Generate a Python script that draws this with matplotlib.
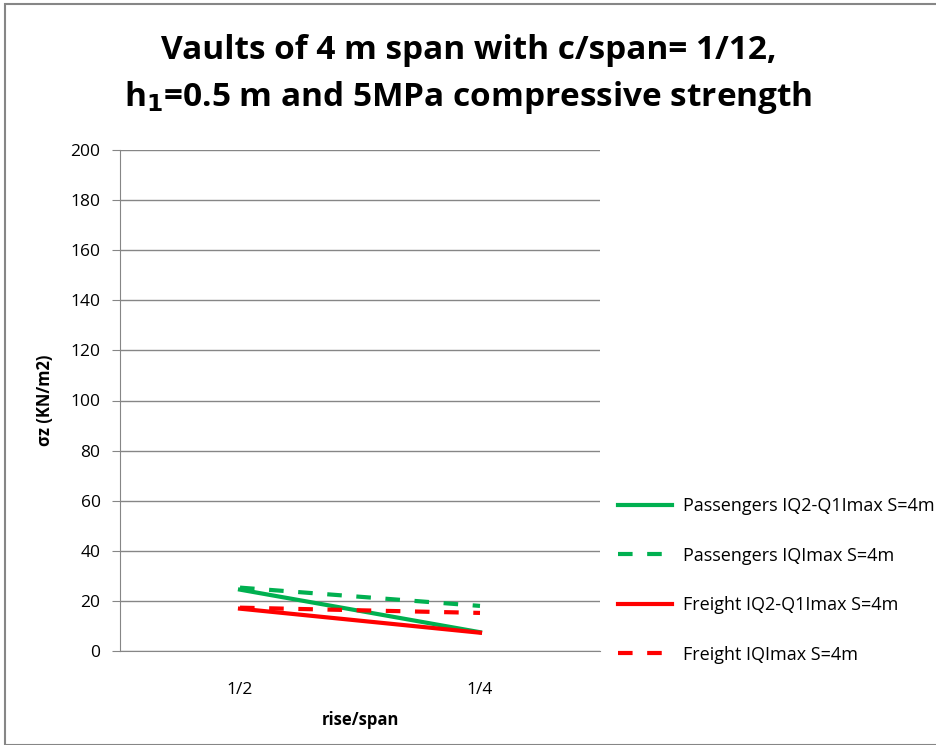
import matplotlib.pyplot as plt
from matplotlib.patches import Rectangle

plt.rcParams['font.family'] = ['Open Sans', 'DejaVu Sans']

categories = ['1/2', '1/4']
pass_iq2 = [24.5, 7.5]
pass_iqmax = [25.3, 18.0]
freight_iq2 = [16.9, 7.3]
freight_iqmax = [17.3, 15.2]

green = '#00b050'
red = '#ff0000'

fig = plt.figure(figsize=(9.37, 7.45), dpi=100)
ax = fig.add_axes([120 / 937, 1 - 651 / 745, 480 / 937, 501 / 745])

x = range(len(categories))
dash = (0, (3.5, 3.5))
ax.plot(x, pass_iq2, color=green, lw=3, label='Passengers IQ2-Q1Imax S=4m')
ax.plot(x, pass_iqmax, color=green, lw=3, ls=dash, label='Passengers IQImax S=4m')
ax.plot(x, freight_iq2, color=red, lw=3, label='Freight IQ2-Q1Imax S=4m')
ax.plot(x, freight_iqmax, color=red, lw=3, ls=dash, label='Freight IQImax S=4m')

ax.set_xlim(-0.5, 1.5)
ax.set_ylim(0, 200)
ax.set_yticks(range(0, 201, 20))
ax.set_xticks(list(x))
ax.set_xticklabels(categories)
ax.tick_params(axis='x', length=0, pad=22, labelsize=12.5)
ax.tick_params(axis='y', length=6, color='#868686', pad=8, labelsize=12.5)
ax.grid(axis='y', color='#868686', lw=1)
ax.set_axisbelow(True)
for s in ['top', 'right']:
    ax.spines[s].set_visible(False)
ax.spines['left'].set_color('#868686')
ax.spines['bottom'].set_color('#868686')

ax.set_ylabel('σz (KN/m2)', fontsize=12, fontweight='bold', labelpad=12)
ax.set_xlabel('rise/span', fontsize=12, fontweight='bold', labelpad=10)

fig.text(0.5, 0.899, 'Vaults of 4 m span with c/span= 1/12,\n'
         r'h$_\mathbf{1}$=0.5 m and 5MPa compressive strength',
         ha='center', va='center', fontsize=24, fontweight='bold', linespacing=1.45)

leg = ax.legend(loc='center left', bbox_to_anchor=(1.0, 0.141), frameon=False,
                fontsize=13, handlelength=3.0, labelspacing=1.75, handletextpad=0.6,
                borderaxespad=0.6)

fig.patches.append(Rectangle((5 / 937, 0), 1.2, 1 - 4 / 745, transform=fig.transFigure,
                             fill=False, edgecolor='#868686', lw=1.5))

fig.savefig('out.png', dpi=100)
